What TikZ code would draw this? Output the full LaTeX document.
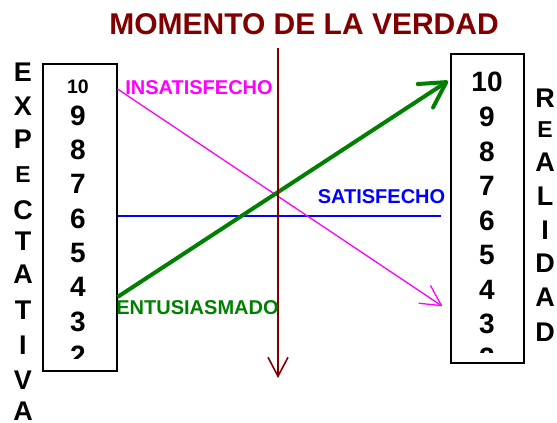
\documentclass[tikz,border=0pt]{standalone}
\usepackage{fontspec}
\setmainfont{Liberation Sans}
\usetikzlibrary{arrows.meta}
\definecolor{titlered}{HTML}{800000}
\definecolor{linered}{HTML}{800000}
\definecolor{mag}{HTML}{FF00FF}
\definecolor{blu}{HTML}{0000FF}
\definecolor{grn}{HTML}{008000}
\tikzset{
  txt/.style={inner sep=0pt, anchor=center},
  bigletter/.style={txt, font=\fontsize{27}{27}\selectfont\bfseries},
  smallletter/.style={txt, font=\fontsize{23}{23}\selectfont\bfseries},
  bignum/.style={txt, font=\fontsize{28}{28}\selectfont\bfseries},
  smallnum/.style={txt, font=\fontsize{19.5}{19.5}\selectfont\bfseries},
  scalebox/.style={draw=black, line width=1.5pt, inner sep=0pt, anchor=north west},
  lbl/.style={txt, font=\fontsize{20}{20}\selectfont\bfseries},
}
\begin{document}
\begin{tikzpicture}[x=1pt,y=-1pt]
\useasboundingbox (0,0) rectangle (557,423);

% title
\node[txt, font=\fontsize{30}{30}\selectfont\bfseries, text=titlered] (title) at (304,24) {MOMENTO DE LA VERDAD};

% boxes
\node[scalebox, minimum width=74pt, minimum height=307pt] (lbox) at (42,63) {};
\node[scalebox, minimum width=73pt, minimum height=309pt] (rbox) at (450,53) {};

% left numbers
\begin{scope}
\clip (42,63) rectangle (116,358);
\node[smallnum] (l10) at (78,87) {10};
\foreach \n/\y in {9/116,8/150,7/184,6/219,5/253,4/287,3/322,2/356}
  \node[bignum] (l\n) at (78,\y) {\n};
\end{scope}

% right numbers
\begin{scope}
\clip (450,53) rectangle (523,352);
\node[bignum] (r10) at (487,82) {10};
\foreach \n/\y in {9/117,8/152,7/186,6/221,5/255,4/290,3/324,2/358}
  \node[bignum] (r\n) at (487,\y) {\n};
\end{scope}

% left vertical word
\node[bigletter] (e1) at (23,72) {E};
\node[bigletter] (e2) at (23,106) {X};
\node[bigletter] (e3) at (23,139) {P};
\node[smallletter] (e4) at (23,175) {E};
\node[bigletter] (e5) at (23,210) {C};
\node[bigletter] (e6) at (23,241) {T};
\node[bigletter] (e7) at (23,274) {A};
\node[bigletter] (e8) at (23,310) {T};
\node[bigletter] (e9) at (23,345) {I};
\node[bigletter] (e10) at (23,380) {V};
\node[bigletter] (e11) at (23,411) {A};

% right vertical word
\node[bigletter] (a1) at (545,98) {R};
\node[smallletter] (a2) at (545,130) {E};
\node[bigletter] (a3) at (545,162) {A};
\node[bigletter] (a4) at (545,196) {L};
\node[bigletter] (a5) at (545,230) {I};
\node[bigletter] (a6) at (545,263) {D};
\node[bigletter] (a7) at (545,297) {A};
\node[bigletter] (a8) at (545,332) {D};

% connector end points
\coordinate (insA) at (lbox.east |- 0,89);
\coordinate (insB) at (442,306);
\coordinate (satA) at (lbox.east |- 0,216);
\coordinate (satB) at (441,216);
\coordinate (entA) at (lbox.east |- 0,297);
\coordinate (entB) at (448,81);
\coordinate (vtop) at (278,48);
\coordinate (vbot) at (278,378);

% lines
\draw[blu, line width=1.2pt] (satA) -- (satB);
\draw[mag, line width=1.3pt, -{Straight Barb[length=20pt,width=21pt,round]}] (insA) -- (insB);
\draw[grn, line width=4pt, -{Straight Barb[length=25pt,width=28pt,round]}] (entA) -- (entB);
\draw[linered, line width=1.6pt, -{Straight Barb[length=19pt,width=20pt]}] (vtop) -- (vbot);

% labels
\node[lbl, text=mag] (ins) at (199,88) {INSATISFECHO};
\node[lbl, text=blu] (sat) at (381.5,197) {SATISFECHO};
\node[lbl, text=grn] (ent) at (197.5,307.5) {ENTUSIASMADO};
\end{tikzpicture}
\end{document}
